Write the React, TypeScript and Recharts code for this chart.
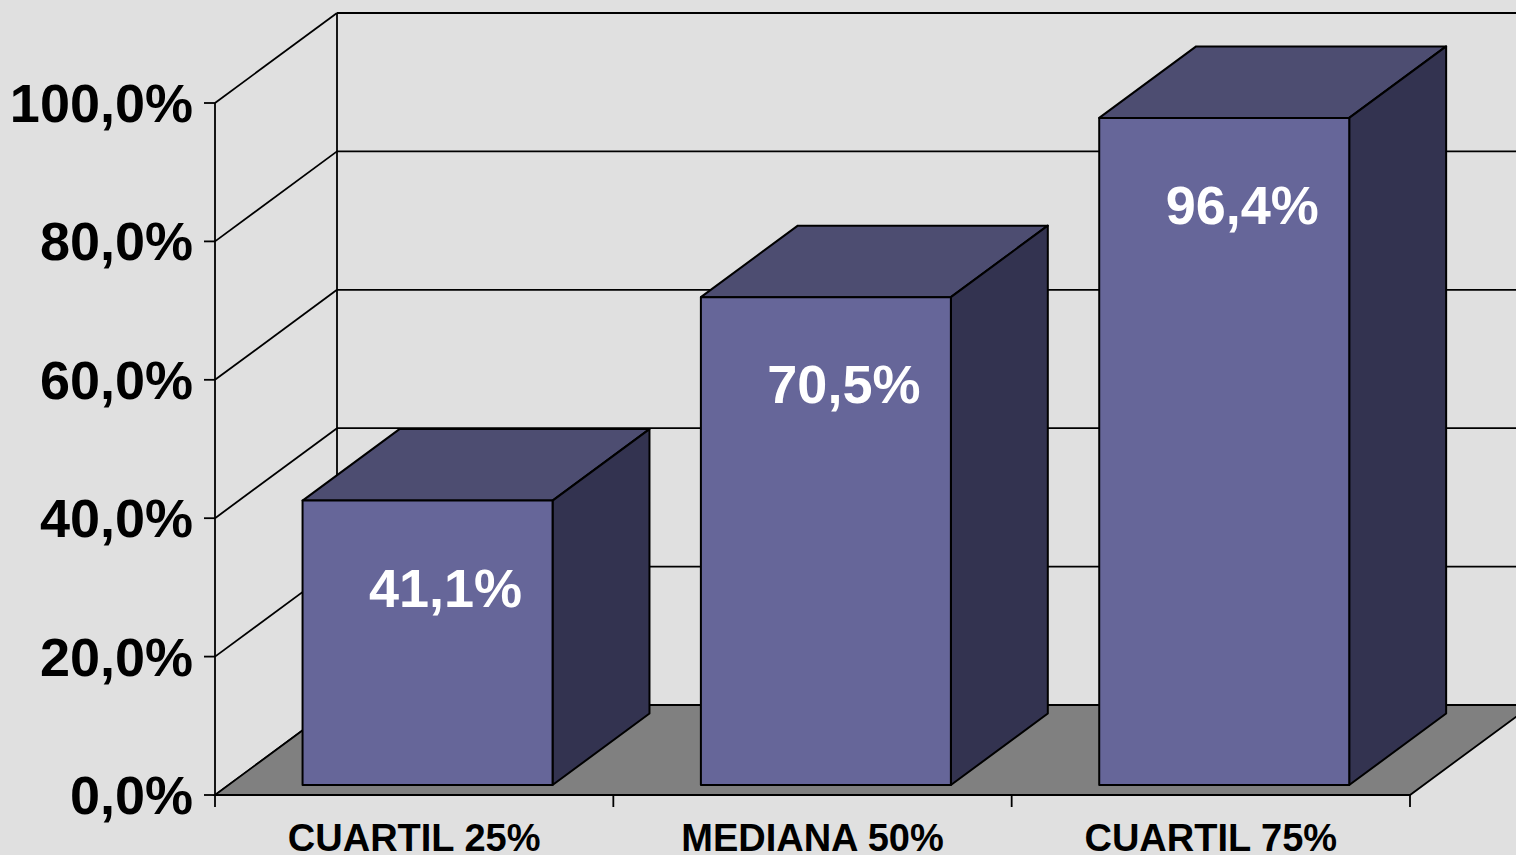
import React from 'react';
import { BarChart, Bar, XAxis, YAxis, CartesianGrid, Customized, LabelList } from 'recharts';

const categories = ['CUARTIL 25%', 'MEDIANA 50%', 'CUARTIL 75%'];
const values = [41.1, 70.5, 96.4];
const yTicks = [0, 20, 40, 60, 80, 100];

const data = categories.map((name, i) => ({ name, value: values[i] }));

// chart geometry: the plot area is the back wall, the front is drawn shifted by the depth
const W = 1540;
const H = 855;
const LEFT = 337;
const TOP = 13;
const RIGHT = 8;
const AXIS_H = 150;
const PLOT_W = W - LEFT - RIGHT;
const BOTTOM = H - AXIS_H;
const DX = 122;
const DY = 90;
const FRONT = 80 / 90;
const BACK = 8.5 / 90;
const FONT = '"Liberation Sans", Arial, Helvetica, sans-serif';
const LINE = 1.8;

const pct = (v: number) => `${v.toFixed(1).replace('.', ',')}%`;
const backY = (v: number) => BOTTOM - (v / 100) * (BOTTOM - TOP);

const Box3D = (props: any) => {
  const { x, y, width, height } = props;
  const fx = x - DX * FRONT;
  const fy = y + DY * FRONT;
  const d = DX * (FRONT - BACK);
  const e = DY * (FRONT - BACK);
  const bottom = fy + height;
  return (
    <g stroke="#000" strokeWidth={2} strokeLinejoin="round">
      <polygon
        points={`${fx},${fy} ${fx + d},${fy - e} ${fx + width + d},${fy - e} ${fx + width},${fy}`}
        fill="#4D4D71"
      />
      <polygon
        points={`${fx + width},${fy} ${fx + width + d},${fy - e} ${fx + width + d},${bottom - e} ${fx + width},${bottom}`}
        fill="#333350"
      />
      <rect x={fx} y={fy} width={width} height={height} fill="#666699" />
    </g>
  );
};

const BarLabel = (props: any) => {
  const vb = props.viewBox || props;
  const { x, y, width } = vb;
  return (
    <text
      x={x - DX * FRONT + width / 2 + 18}
      y={y + DY * FRONT + 106}
      textAnchor="middle"
      fill="#fff"
      fontFamily={FONT}
      fontWeight="bold"
      fontSize={54}
    >
      {pct(props.value)}
    </text>
  );
};

const YTick = (props: any) => {
  const { y, payload } = props;
  const fy = y + DY;
  return (
    <g>
      <line x1={LEFT - DX - 11} y1={fy} x2={LEFT - DX} y2={fy} stroke="#000" strokeWidth={LINE} />
      <text x={LEFT - DX - 22} y={fy + 19} textAnchor="end" fill="#000" fontFamily={FONT} fontWeight="bold" fontSize={54}>
        {pct(payload.value)}
      </text>
    </g>
  );
};

const XTick = (props: any) => {
  const { x, payload } = props;
  return (
    <text x={x - DX} y={851} textAnchor="middle" fill="#000" fontFamily={FONT} fontWeight="bold" fontSize={38}>
      {payload.value}
    </text>
  );
};

const Walls = () => {
  const fl = LEFT - DX;
  const fb = BOTTOM + DY;
  const band = PLOT_W / categories.length;
  const marks = [0, 1, 2, 3].map((i) => fl + i * band);
  return (
    <g stroke="#000" strokeWidth={LINE}>
      <line x1={LEFT} y1={TOP} x2={LEFT} y2={BOTTOM} />
      {yTicks.map((t) => (
        <line key={t} x1={LEFT} y1={backY(t)} x2={fl} y2={backY(t) + DY} />
      ))}
      <polygon
        points={`${fl},${fb} ${fl + PLOT_W},${fb} ${LEFT + PLOT_W},${BOTTOM} ${LEFT},${BOTTOM}`}
        fill="#808080"
      />
      <line x1={fl} y1={TOP + DY} x2={fl} y2={fb} />
      {marks.map((mx) => (
        <line key={mx} x1={mx} y1={fb} x2={mx} y2={fb + 12} />
      ))}
    </g>
  );
};

export default function App() {
  return (
    <div style={{ position: 'fixed', left: 0, top: 0, width: 1516, height: 855, overflow: 'hidden', background: '#E0E0E0' }}>
      <BarChart width={W} height={H} data={data} margin={{ top: TOP, right: RIGHT, bottom: 0, left: 0 }}>
        <CartesianGrid vertical={false} stroke="#000" strokeWidth={LINE} />
        <YAxis
          domain={[0, 100]}
          ticks={yTicks}
          interval={0}
          width={LEFT}
          axisLine={false}
          tickLine={false}
          tick={<YTick />}
        />
        <XAxis dataKey="name" height={AXIS_H} axisLine={false} tickLine={false} interval={0} tick={<XTick />} />
        <Customized component={<Walls />} />
        <Bar dataKey="value" barSize={250} shape={<Box3D />} isAnimationActive={false}>
          <LabelList dataKey="value" content={<BarLabel />} />
        </Bar>
      </BarChart>
    </div>
  );
}
